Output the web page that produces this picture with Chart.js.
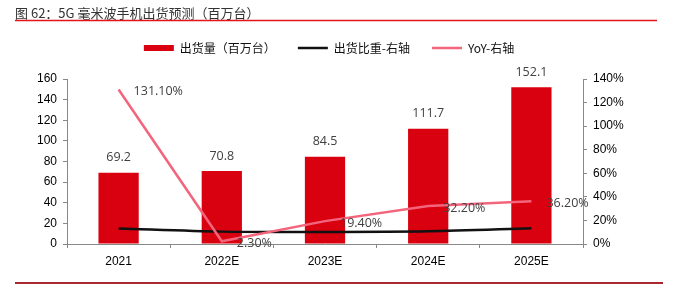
<!DOCTYPE html>
<html>
<head>
<meta charset="utf-8">
<script src="https://cdn.jsdelivr.net/npm/chart.js@4"></script>
<style>
  html,body{margin:0;padding:0;background:#fff;}
  #wrap{position:relative;width:700px;height:287px;}
  canvas{display:block;}
</style>
</head>
<body>
<div id="wrap"><canvas id="c" width="700" height="287"></canvas></div>
<script>
const titleText = '图 62：5G 毫米波手机出货预测（百万台）';
const categories = ['2021', '2022E', '2023E', '2024E', '2025E'];
const shipments = [69.2, 70.8, 84.5, 111.7, 152.1];
const shareRatio = [13.2, 10.5, 10.2, 10.8, 13.3];
const yoy = [131.1, 2.3, 19.4, 32.2, 36.2];
const seriesNames = ['出货量（百万台）', '出货比重-右轴', 'YoY-右轴'];
const leftAxis = {min: 0, max: 160, step: 20};
const rightAxis = {min: 0, max: 140, step: 20};

const RED = '#d9000f';
const PINK = '#f2657c';
const BLACK = '#111111';

const decorPlugin = {
  id: 'decor',
  afterDraw(chart) {
    const ctx = chart.ctx;
    ctx.save();
    ctx.strokeStyle = '#e0161f';
    ctx.lineWidth = 1.5;
    ctx.beginPath(); ctx.moveTo(15, 20.5); ctx.lineTo(657, 20.5); ctx.stroke();
    ctx.strokeStyle = '#a8282e';
    ctx.lineWidth = 2;
    ctx.beginPath(); ctx.moveTo(15, 283); ctx.lineTo(663, 283); ctx.stroke();
    ctx.restore();
  }
};

const labelPlugin = {
  id: 'valueLabels',
  afterDatasetsDraw(chart) {
    const ctx = chart.ctx;
    ctx.save();
    ctx.font = '12.5px "Open Sans", "Liberation Sans", sans-serif';
    ctx.fillStyle = '#404040';
    chart.data.datasets.forEach((ds, di) => {
      if (!ds.labelMode) return;
      const meta = chart.getDatasetMeta(di);
      meta.data.forEach((el, i) => {
        const v = ds.data[i];
        if (ds.labelMode === 'top') {
          ctx.textAlign = 'center';
          ctx.textBaseline = 'middle';
          ctx.fillText(v.toFixed(1), el.x, el.y - 15);
        } else if (ds.labelMode === 'right') {
          ctx.textAlign = 'left';
          ctx.textBaseline = 'middle';
          ctx.fillText(v.toFixed(2) + '%', el.x + 15, el.y + 2);
        }
      });
    });
    ctx.restore();
  }
};

new Chart(document.getElementById('c'), {
  type: 'bar',
  data: {
    labels: categories,
    datasets: [
      {
        type: 'bar', label: seriesNames[0], data: shipments, yAxisID: 'y',
        backgroundColor: RED, borderWidth: 0, order: 3,
        barPercentage: 0.39, categoryPercentage: 1.0, labelMode: 'top'
      },
      {
        type: 'line', label: seriesNames[1], data: shareRatio, yAxisID: 'y1',
        borderColor: BLACK, borderWidth: 2.5, pointRadius: 0, tension: 0.3, order: 2
      },
      {
        type: 'line', label: seriesNames[2], data: yoy, yAxisID: 'y1',
        borderColor: PINK, borderWidth: 2.5, pointRadius: 0, tension: 0, order: 1,
        labelMode: 'right'
      }
    ]
  },
  options: {
    responsive: false,
    animation: false,
    devicePixelRatio: 1,
    layout: {padding: {left: 15, right: 57, top: 0, bottom: 0}},
    plugins: {
      tooltip: {enabled: false},
      title: {
        display: true, text: titleText, align: 'start', color: '#333333',
        font: {family: '"Noto Sans CJK SC", "Liberation Sans", sans-serif', size: 13, weight: 'normal', lineHeight: 1},
        padding: {top: 7, bottom: 0}
      },
      subtitle: {
        display: true, text: ' ', weight: 500, position: 'top',
        font: {size: 1, lineHeight: 1}, padding: {top: 0, bottom: 14}
      },
      legend: {
        display: true, position: 'top', align: 'center',
        labels: {
          color: '#111111',
          font: {family: '"Noto Sans CJK SC", "Liberation Sans", sans-serif', size: 12},
          usePointStyle: true, pointStyleWidth: 30, boxWidth: 30, boxHeight: 6, padding: 22,
          generateLabels(chart) {
            return [
              {text: seriesNames[0], fillStyle: RED, strokeStyle: RED, lineWidth: 0, pointStyle: 'rect', hidden: false, datasetIndex: 0, fontColor: '#111'},
              {text: seriesNames[1], fillStyle: BLACK, strokeStyle: BLACK, lineWidth: 2.5, pointStyle: 'line', hidden: false, datasetIndex: 1, fontColor: '#111'},
              {text: seriesNames[2], fillStyle: PINK, strokeStyle: PINK, lineWidth: 2.5, pointStyle: 'line', hidden: false, datasetIndex: 2, fontColor: '#111'}
            ];
          }
        }
      }
    },
    scales: {
      x: {
        type: 'category', offset: true,
        grid: {display: true, drawOnChartArea: false, drawTicks: true, tickLength: 4, color: '#888888', offset: true},
        border: {display: true, color: '#888888', width: 1},
        ticks: {color: '#000000', font: {family: '"Liberation Sans", Arial, sans-serif', size: 12}, padding: 6, maxRotation: 0, autoSkip: false},
        afterFit(s) { s.height = 43; }
      },
      y: {
        type: 'linear', position: 'left', min: leftAxis.min, max: leftAxis.max,
        grid: {display: true, drawOnChartArea: false, drawTicks: true, tickLength: 4, color: '#888888'},
        border: {display: true, color: '#888888', width: 1},
        ticks: {stepSize: leftAxis.step, color: '#000000', font: {family: '"Liberation Sans", Arial, sans-serif', size: 12}, padding: 6},
        afterFit(s) { s.width = 52; }
      },
      y1: {
        type: 'linear', position: 'right', min: rightAxis.min, max: rightAxis.max,
        grid: {display: true, drawOnChartArea: false, drawTicks: true, tickLength: 4, color: '#888888'},
        border: {display: true, color: '#888888', width: 1},
        ticks: {stepSize: rightAxis.step, color: '#000000', font: {family: '"Liberation Sans", Arial, sans-serif', size: 12}, padding: 6,
          callback: (v) => v + '%'},
        afterFit(s) { s.width = 60; }
      }
    }
  },
  plugins: [labelPlugin, decorPlugin]
});
</script>
</body>
</html>
